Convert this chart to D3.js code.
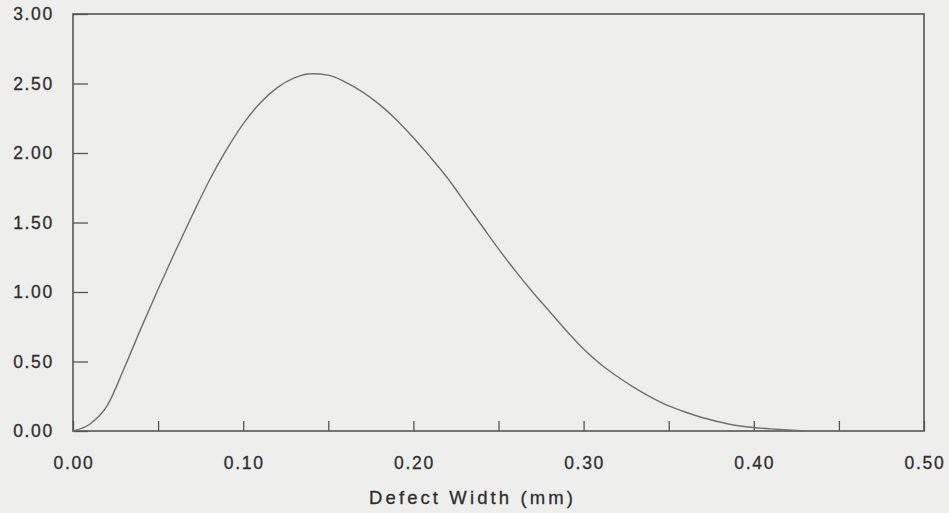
<!DOCTYPE html>
<html>
<head>
<meta charset="utf-8">
<script src="https://cdn.jsdelivr.net/npm/d3@7"></script>
<style>
  body { margin: 0; background: #eeeeec; }
  text { font-family: "Liberation Sans", Arial, sans-serif; fill: #2e2e2e; }
</style>
</head>
<body>
<div id="chart"></div>
<script>
// defect width (mm) and density
const widths = [0, 0.01, 0.02, 0.03, 0.04, 0.05, 0.06, 0.07, 0.08, 0.09,
  0.10, 0.11, 0.12, 0.13, 0.14, 0.15, 0.16, 0.17, 0.18, 0.19,
  0.20, 0.21, 0.22, 0.23, 0.24, 0.25, 0.26, 0.27, 0.28, 0.29,
  0.30, 0.31, 0.32, 0.33, 0.34, 0.35, 0.36, 0.37, 0.38, 0.39,
  0.40, 0.41, 0.42, 0.43];
const density = [0.00, 0.05, 0.18, 0.45, 0.74, 1.02, 1.29, 1.55, 1.80, 2.02,
  2.21, 2.36, 2.47, 2.54, 2.57, 2.56, 2.51, 2.44, 2.35, 2.24,
  2.11, 1.97, 1.82, 1.65, 1.48, 1.31, 1.15, 1.00, 0.86, 0.72,
  0.59, 0.48, 0.39, 0.31, 0.24, 0.18, 0.135, 0.095, 0.065, 0.04,
  0.025, 0.015, 0.007, 0.00];
const xTicks = [0, 0.05, 0.10, 0.15, 0.20, 0.25, 0.30, 0.35, 0.40, 0.45, 0.50];
const xLabels = [0, 0.10, 0.20, 0.30, 0.40, 0.50];
const yTicks = [0, 0.5, 1.0, 1.5, 2.0, 2.5, 3.0];
const xTitle = "Defect Width (mm)";

const W = 949, H = 513;
const margin = { left: 73, right: 25, top: 14, bottom: 82 };

const svg = d3.select('#chart').append('svg')
  .attr('width', W).attr('height', H);

const x = d3.scaleLinear().domain([0, 0.5]).range([margin.left, W - margin.right]);
const y = d3.scaleLinear().domain([0, 3]).range([H - margin.bottom, margin.top]);

// frame
svg.append('rect')
  .attr('x', x(0)).attr('y', y(3))
  .attr('width', x(0.5) - x(0)).attr('height', y(0) - y(3))
  .attr('fill', 'none').attr('stroke', '#555').attr('stroke-width', 1.6);

// inner ticks on y axis
svg.append('g').attr('transform', 'translate(' + x(0) + ',0)')
  .call(d3.axisRight(y).tickValues(yTicks).tickSize(15).tickFormat(''))
  .call(g => g.select('.domain').remove())
  .selectAll('line').attr('stroke', '#555').attr('stroke-width', 1.3);

svg.append('g').selectAll('text').data(yTicks).enter().append('text')
  .attr('x', 54).attr('y', d => y(d) + 6)
  .attr('text-anchor', 'end')
  .style('font-size', '17.5px').style('letter-spacing', '1.7px')
  .style('stroke', '#2e2e2e').style('stroke-width', 0.3)
  .text(d => d3.format('.2f')(d));

// inner ticks on x axis
svg.append('g').attr('transform', 'translate(0,' + y(0) + ')')
  .call(d3.axisTop(x).tickValues(xTicks).tickSize(10).tickFormat(''))
  .call(g => g.select('.domain').remove())
  .selectAll('line').attr('stroke', '#555').attr('stroke-width', 1.3);

svg.append('g').selectAll('text').data(xLabels).enter().append('text')
  .attr('x', d => x(d) + 1).attr('y', y(0) + 38)
  .attr('text-anchor', 'middle')
  .style('font-size', '17.5px').style('letter-spacing', '1.7px')
  .style('stroke', '#2e2e2e').style('stroke-width', 0.3)
  .text(d => d3.format('.2f')(d));

svg.append('text')
  .attr('x', (x(0) + x(0.5)) / 2 - 26).attr('y', y(0) + 73)
  .attr('text-anchor', 'middle')
  .style('font-size', '18.5px').style('letter-spacing', '3.1px')
  .style('stroke', '#2e2e2e').style('stroke-width', 0.3)
  .text(xTitle);

// the curve
const line = d3.line()
  .x((d, i) => x(widths[i]))
  .y(d => y(d))
  .curve(d3.curveMonotoneX);

svg.append('path')
  .datum(density)
  .attr('d', line)
  .attr('fill', 'none')
  .attr('stroke', '#707070')
  .attr('stroke-width', 1.4);
</script>
</body>
</html>
